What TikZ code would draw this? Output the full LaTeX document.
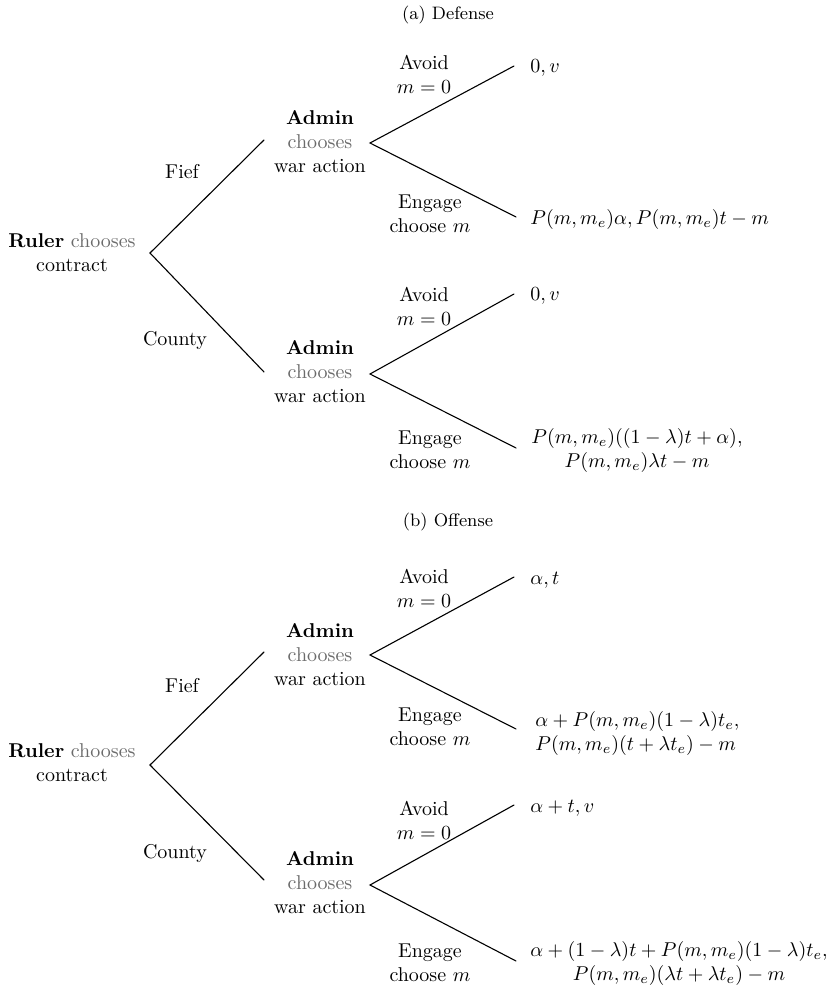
\documentclass[tikz,border=0pt]{standalone}
\usepackage{xcolor}
\definecolor{choosegray}{gray}{0.42}
\begin{document}
\begin{tikzpicture}[x=0.5pt,y=-0.5pt,
  edge/.style={line width=0.55pt, line cap=round},
  txt/.style={inner sep=0pt, align=center, font=\normalsize},
  pay/.style={inner sep=0pt, anchor=west, align=left},
  paycenter/.style={inner sep=0pt, align=center},
  captiontxt/.style={inner sep=0pt, font=\small}]
\useasboundingbox (0,0) rectangle (834,988);
\newcommand{\gchoose}{\textcolor{choosegray}{chooses}}

% ---------------- (a) Defense ----------------
\node[captiontxt] (capa) at (448,15) {(a) Defense};

\node[txt] (rulera) at (72,253) {\textbf{Ruler} \gchoose\\contract};
\coordinate (roota) at (150,253);
\coordinate (fiefa) at (264,140);
\coordinate (countya) at (264,372);
\node[txt] (fieflaba) at (182,172) {Fief};
\node[txt] (countylaba) at (175,341) {County};

\node[txt] (admina1) at (320,142) {\textbf{Admin}\\\gchoose\\war action};
\coordinate (va1) at (370,143);
\node[txt] (admina2) at (320,372) {\textbf{Admin}\\\gchoose\\war action};
\coordinate (va2) at (370,374);

\coordinate (ea1) at (514,66);
\coordinate (ea2) at (516,217);
\coordinate (ea3) at (514,294);
\coordinate (ea4) at (516,448);

\node[txt] (avoida1) at (424,74) {Avoid\\$m=0$};
\node[txt] (engagea1) at (430,214) {Engage\\choose $m$};
\node[txt] (avoida2) at (424,306) {Avoid\\$m=0$};
\node[txt] (engagea2) at (430,450) {Engage\\choose $m$};

\node[pay] (pa1) at (530,68) {$0, v$};
\node[pay] (pa2) at (530,220) {$P(m,m_e)\alpha, P(m,m_e)t-m$};
\node[pay] (pa3) at (530,296) {$0, v$};
\node[paycenter] (pa4) at (637,450) {$P(m,m_e)((1-\lambda)t+\alpha),$\\$P(m,m_e)\lambda t-m$};

\draw[edge] (fiefa) -- (roota) -- (countya);
\draw[edge] (ea1) -- (va1) -- (ea2);
\draw[edge] (ea3) -- (va2) -- (ea4);

% ---------------- (b) Offense ----------------
\node[captiontxt] (capb) at (448,522) {(b) Offense};

\node[txt] (rulerb) at (72,763) {\textbf{Ruler} \gchoose\\contract};
\coordinate (rootb) at (150,765);
\coordinate (fiefb) at (264,652);
\coordinate (countyb) at (264,880);
\node[txt] (fieflabb) at (182,686) {Fief};
\node[txt] (countylabb) at (175,853) {County};

\node[txt] (adminb1) at (320,655) {\textbf{Admin}\\\gchoose\\war action};
\coordinate (vb1) at (370,655);
\node[txt] (adminb2) at (320,883) {\textbf{Admin}\\\gchoose\\war action};
\coordinate (vb2) at (370,885);

\coordinate (eb1) at (514,577);
\coordinate (eb2) at (516,729);
\coordinate (eb3) at (514,805);
\coordinate (eb4) at (516,961);

\node[txt] (avoidb1) at (424,588) {Avoid\\$m=0$};
\node[txt] (engageb1) at (430,727) {Engage\\choose $m$};
\node[txt] (avoidb2) at (424,820) {Avoid\\$m=0$};
\node[txt] (engageb2) at (430,963) {Engage\\choose $m$};

\node[pay] (pb1) at (530,580) {$\alpha, t$};
\node[pay] (pb2) at (535,733) {$\alpha+P(m,m_e)(1-\lambda)t_e,$\\$P(m,m_e)(t+\lambda t_e)-m$};
\node[pay] (pb3) at (530,808) {$\alpha+t, v$};
\node[paycenter] (pb4) at (679,963) {$\alpha+(1-\lambda)t+P(m,m_e)(1-\lambda)t_e,$\\$P(m,m_e)(\lambda t+\lambda t_e)-m$};

\draw[edge] (fiefb) -- (rootb) -- (countyb);
\draw[edge] (eb1) -- (vb1) -- (eb2);
\draw[edge] (eb3) -- (vb2) -- (eb4);
\end{tikzpicture}
\end{document}
